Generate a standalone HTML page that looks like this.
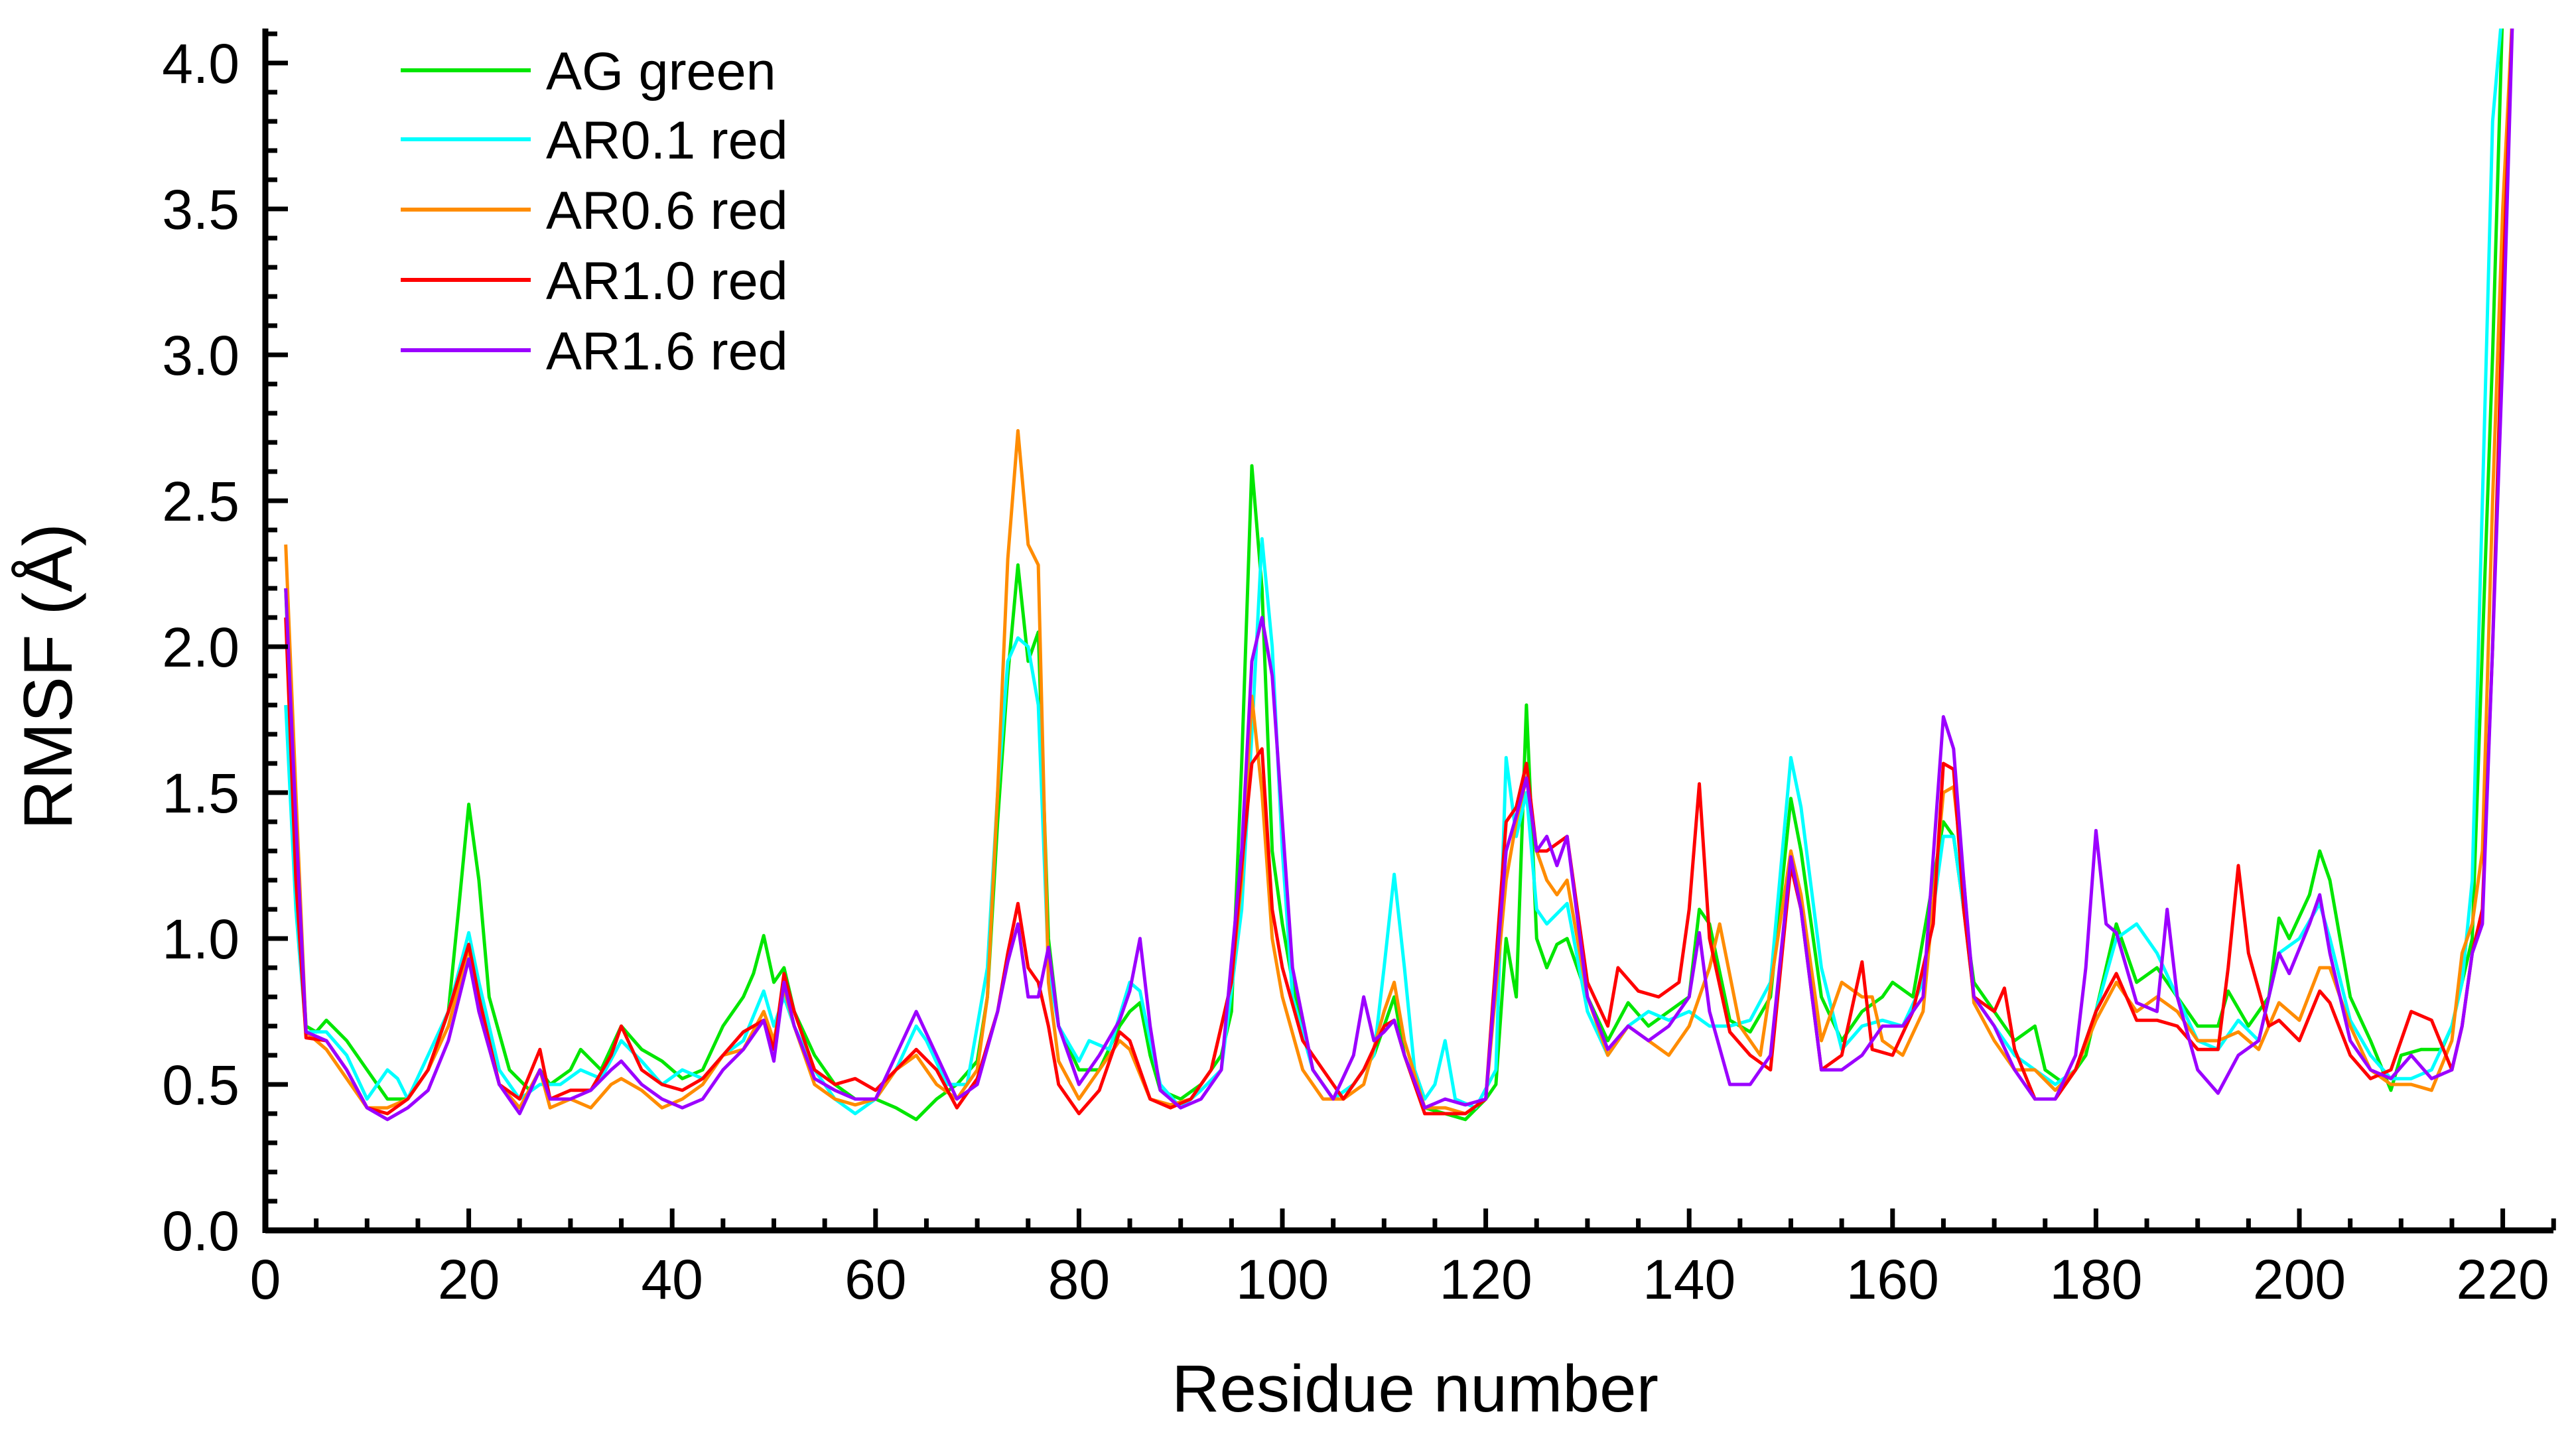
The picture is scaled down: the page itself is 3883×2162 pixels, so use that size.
<!DOCTYPE html>
<html><head><meta charset="utf-8"><style>
html,body{margin:0;padding:0;background:#fff}
svg{display:block}
text{font-family:"Liberation Sans",Arial,sans-serif;fill:#000}
</style></head><body>
<svg id="chart" width="3883" height="2162" viewBox="0 0 3883 2162" xmlns="http://www.w3.org/2000/svg">
<defs><clipPath id="plotclip"><rect x="400" y="43" width="3460" height="1815"/></clipPath></defs>
<g id="series" clip-path="url(#plotclip)"></g>
<g id="axes"></g>
<g id="legend"></g>
<text x="2133" y="2128" font-size="100" text-anchor="middle">Residue number</text>
<text x="0" y="0" font-size="104" text-anchor="middle" transform="translate(108,1020) rotate(-90)">RMSF (Å)</text>
</svg>
<script>
const xTicks=[0,20,40,60,80,100,120,140,160,180,200,220];
const yTicks=[0.0,0.5,1.0,1.5,2.0,2.5,3.0,3.5,4.0];
const seriesNames=["AG green","AR0.1 red","AR0.6 red","AR1.0 red","AR1.6 red"];
const seriesColors=["#00e600","#00ffff","#ff8c00","#ff0000","#9b00ff"];
const agRes=[2,3,4,5,6,8,10,12,14,16,18,19,20,21,22,24,26,27,28,30,31,33,35,37,39,41,43,45,47,48,49,50,51,52,54,56,58,60,62,64,66,68,70,71,72,73,74,75,76,77,78,80,82,84,85,86,87,88,90,92,94,95,96,97,98,99,100,101,103,105,107,109,111,112,114,116,118,120,121,122,123,124,125,126,127,128,130,132,134,136,138,140,141,142,144,146,148,150,151,153,155,157,159,160,162,164,165,166,167,168,170,172,174,175,177,179,181,182,184,186,188,190,192,193,195,197,198,199,201,202,203,205,207,209,210,212,214,215,216,217,218,219,220];
const agVal=[2.2,1.3,0.7,0.68,0.72,0.65,0.55,0.45,0.45,0.55,0.75,1.1,1.46,1.2,0.8,0.55,0.48,0.55,0.5,0.55,0.62,0.55,0.7,0.62,0.58,0.52,0.55,0.7,0.8,0.88,1.01,0.85,0.9,0.75,0.6,0.5,0.45,0.45,0.42,0.38,0.45,0.5,0.58,0.8,1.4,1.9,2.28,1.95,2.05,1.0,0.7,0.55,0.55,0.7,0.75,0.78,0.6,0.48,0.45,0.5,0.6,0.75,1.6,2.62,2.2,1.3,1.05,0.85,0.55,0.45,0.5,0.6,0.8,0.6,0.42,0.4,0.38,0.45,0.5,1.0,0.8,1.8,1.0,0.9,0.98,1.0,0.8,0.65,0.78,0.7,0.75,0.8,1.1,1.05,0.72,0.68,0.8,1.48,1.3,0.8,0.65,0.75,0.8,0.85,0.8,1.2,1.4,1.35,1.1,0.85,0.75,0.65,0.7,0.55,0.5,0.6,0.9,1.05,0.85,0.9,0.8,0.7,0.7,0.82,0.7,0.8,1.07,1.0,1.15,1.3,1.2,0.8,0.65,0.48,0.6,0.62,0.62,0.7,0.85,1.0,2.0,3.0,4.2];
const ar01Res=[2,3,4,6,8,10,12,13,14,16,18,20,21,23,25,27,29,31,33,35,37,39,41,43,45,47,49,50,51,52,54,56,58,60,62,64,65,67,69,71,72,73,74,75,76,77,78,80,81,83,85,86,87,88,90,92,94,96,97,98,99,100,101,103,105,107,109,110,111,112,113,114,115,116,117,119,121,122,123,124,125,126,128,130,132,134,136,138,140,142,144,146,148,150,151,153,155,157,159,161,163,165,166,167,168,170,172,174,176,178,180,182,184,186,188,190,192,194,196,198,200,202,203,205,207,209,211,213,215,216,217,218,219,220];
const ar01Val=[1.8,1.1,0.68,0.68,0.6,0.45,0.55,0.52,0.45,0.6,0.75,1.02,0.85,0.55,0.45,0.5,0.5,0.55,0.52,0.65,0.58,0.5,0.55,0.52,0.6,0.65,0.82,0.7,0.8,0.7,0.55,0.45,0.4,0.45,0.55,0.7,0.65,0.5,0.5,0.9,1.5,1.95,2.03,2.0,1.8,0.9,0.7,0.58,0.65,0.62,0.85,0.82,0.65,0.5,0.42,0.48,0.55,1.1,1.7,2.37,2.0,1.3,0.8,0.55,0.45,0.5,0.6,0.9,1.22,0.9,0.55,0.45,0.5,0.65,0.45,0.42,0.55,1.62,1.35,1.5,1.1,1.05,1.12,0.75,0.6,0.7,0.75,0.72,0.75,0.7,0.7,0.72,0.85,1.62,1.45,0.9,0.62,0.7,0.72,0.7,0.85,1.35,1.35,1.1,0.8,0.7,0.6,0.55,0.5,0.55,0.75,1.0,1.05,0.95,0.8,0.65,0.62,0.72,0.65,0.95,1.0,1.12,1.0,0.72,0.6,0.52,0.52,0.55,0.7,0.85,1.2,2.5,3.8,4.2];
const ar06Res=[2,3,4,6,8,10,12,14,16,18,20,21,23,25,27,28,30,32,34,35,37,39,41,43,45,47,49,50,51,52,54,56,58,60,62,64,66,68,70,71,72,73,74,75,76,77,78,80,82,84,85,87,89,91,93,95,96,97,98,99,100,102,104,106,108,110,111,112,114,116,118,120,122,123,124,125,126,127,128,130,132,134,136,138,140,142,143,145,147,150,151,153,155,157,158,159,161,163,165,166,167,168,170,172,174,176,178,180,182,184,186,188,190,192,194,196,198,200,202,203,205,207,209,211,213,215,216,217,218,219,220,221];
const ar06Val=[2.35,1.5,0.68,0.62,0.52,0.42,0.42,0.45,0.55,0.7,0.97,0.75,0.5,0.42,0.55,0.42,0.45,0.42,0.5,0.52,0.48,0.42,0.45,0.5,0.6,0.62,0.75,0.65,0.83,0.7,0.5,0.45,0.43,0.45,0.55,0.6,0.5,0.45,0.55,0.8,1.5,2.3,2.74,2.35,2.28,0.85,0.58,0.45,0.55,0.65,0.62,0.45,0.43,0.45,0.55,0.85,1.2,1.83,1.5,1.0,0.8,0.55,0.45,0.45,0.5,0.75,0.85,0.65,0.42,0.42,0.4,0.45,1.2,1.4,1.55,1.3,1.2,1.15,1.2,0.8,0.6,0.7,0.65,0.6,0.7,0.9,1.05,0.7,0.6,1.3,1.15,0.65,0.85,0.8,0.8,0.65,0.6,0.75,1.5,1.52,1.2,0.78,0.65,0.55,0.55,0.48,0.55,0.72,0.85,0.75,0.8,0.75,0.65,0.65,0.68,0.62,0.78,0.72,0.9,0.9,0.7,0.55,0.5,0.5,0.48,0.65,0.95,1.05,1.3,2.5,3.5,4.2];
const ar10Res=[2,3,4,6,8,10,12,14,16,18,20,21,23,25,27,28,30,32,34,35,37,39,41,43,45,47,49,50,51,52,54,56,58,60,62,64,66,68,70,72,73,74,75,76,77,78,80,82,84,85,87,89,91,93,95,96,97,98,99,100,102,104,106,108,110,111,112,114,116,118,120,122,123,124,125,126,128,130,132,133,135,137,139,140,141,142,144,146,148,150,151,153,155,157,158,160,162,164,165,166,167,168,170,171,172,174,176,178,180,182,184,186,188,190,192,193,194,195,197,198,200,202,203,205,207,209,211,213,215,216,217,218,219,220,221];
const ar10Val=[2.1,1.2,0.66,0.65,0.55,0.42,0.4,0.45,0.55,0.75,0.98,0.8,0.5,0.45,0.62,0.45,0.48,0.48,0.6,0.7,0.55,0.5,0.48,0.52,0.6,0.68,0.72,0.62,0.88,0.75,0.55,0.5,0.52,0.48,0.55,0.62,0.55,0.42,0.52,0.75,0.95,1.12,0.9,0.85,0.7,0.5,0.4,0.48,0.68,0.65,0.45,0.42,0.45,0.55,0.85,1.25,1.6,1.65,1.1,0.9,0.65,0.55,0.45,0.55,0.7,0.72,0.6,0.4,0.4,0.4,0.45,1.4,1.45,1.6,1.3,1.3,1.35,0.85,0.7,0.9,0.82,0.8,0.85,1.1,1.53,1.0,0.68,0.6,0.55,1.25,1.1,0.55,0.6,0.92,0.62,0.6,0.75,1.05,1.6,1.58,1.1,0.8,0.75,0.83,0.62,0.45,0.45,0.55,0.75,0.88,0.72,0.72,0.7,0.62,0.62,0.9,1.25,0.95,0.7,0.72,0.65,0.82,0.78,0.6,0.52,0.55,0.75,0.72,0.55,0.7,0.95,1.1,2.0,3.2,4.2];
const ar16Res=[2,3,4,6,8,10,12,14,16,18,20,21,23,25,27,28,30,32,34,35,37,39,41,43,45,47,49,50,51,52,54,56,58,60,62,64,66,68,70,72,73,74,75,76,77,78,80,82,84,85,86,87,88,90,92,94,96,97,98,99,100,101,103,105,107,108,109,110,111,112,114,116,118,120,122,123,124,125,126,127,128,130,132,134,136,138,140,141,142,144,146,148,150,151,153,155,157,159,161,163,165,166,167,168,170,172,174,176,178,179,180,181,182,184,186,187,188,190,192,194,196,198,199,201,202,203,205,207,209,211,213,215,216,217,218,219,220,221];
const ar16Val=[2.2,1.4,0.68,0.65,0.55,0.42,0.38,0.42,0.48,0.65,0.93,0.75,0.5,0.4,0.55,0.45,0.45,0.48,0.55,0.58,0.5,0.45,0.42,0.45,0.55,0.62,0.72,0.58,0.85,0.7,0.52,0.48,0.45,0.45,0.6,0.75,0.6,0.45,0.5,0.75,0.92,1.05,0.8,0.8,0.97,0.7,0.5,0.6,0.72,0.82,1.0,0.7,0.48,0.42,0.45,0.55,1.3,1.95,2.1,1.9,1.4,0.9,0.55,0.45,0.6,0.8,0.65,0.68,0.72,0.6,0.42,0.45,0.43,0.45,1.3,1.42,1.55,1.3,1.35,1.25,1.35,0.8,0.62,0.7,0.65,0.7,0.8,1.02,0.75,0.5,0.5,0.6,1.28,1.1,0.55,0.55,0.6,0.7,0.7,0.8,1.76,1.65,1.2,0.8,0.7,0.55,0.45,0.45,0.6,0.9,1.37,1.05,1.02,0.78,0.75,1.1,0.8,0.55,0.47,0.6,0.65,0.95,0.88,1.05,1.15,0.95,0.65,0.55,0.52,0.6,0.52,0.55,0.7,0.95,1.05,2.0,3.0,4.2];

const X0=400,XS=15.33,Y0=1855,YS=440;
function xScale(v){return X0+v*XS;}
function yScale(v){return Y0-v*YS;}
const NS="http://www.w3.org/2000/svg";
function mk(tag,attrs,parent){const e=document.createElementNS(NS,tag);for(const k in attrs)e.setAttribute(k,attrs[k]);parent.appendChild(e);return e;}

const seriesRes=[agRes,ar01Res,ar06Res,ar10Res,ar16Res];
const seriesVal=[agVal,ar01Val,ar06Val,ar10Val,ar16Val];
const sg=document.getElementById('series');
const slugs=["series-ag-green","series-ar01-red","series-ar06-red","series-ar10-red","series-ar16-red"];
for(let s=0;s<5;s++){
  const pts=seriesRes[s].map((r,i)=>xScale(r).toFixed(1)+','+yScale(seriesVal[s][i]).toFixed(1)).join(' ');
  const pl=mk('polyline',{points:pts,fill:'none',stroke:seriesColors[s],'stroke-width':5,'stroke-linejoin':'round'},sg);
  
  
}

const ax=document.getElementById('axes');
const xl=mk('line',{x1:X0,y1:Y0,x2:3849,y2:Y0,stroke:'#000','stroke-width':9},ax);


const yl=mk('line',{x1:X0,y1:Y0+4,x2:X0,y2:43,stroke:'#000','stroke-width':9},ax);


for(let v=5;v<=225;v+=5){
  const major=v%20===0;
  const t=mk('line',{x1:xScale(v),y1:Y0,x2:xScale(v),y2:Y0-(major?33:18),stroke:'#000','stroke-width':7},ax);
  
  
}
for(const v of xTicks){
  const t=mk('text',{x:xScale(v),y:1958,'font-size':84,'text-anchor':'middle'},ax);
  t.textContent=String(v);
  
  
}
for(let i=1;i<=41;i++){
  const v=i/10;const major=i%5===0;
  const t=mk('line',{x1:X0,y1:yScale(v),x2:X0+(major?34:18),y2:yScale(v),stroke:'#000','stroke-width':7},ax);
  
  
}
for(const v of yTicks){
  const t=mk('text',{x:361,y:yScale(v)+30,'font-size':84,'text-anchor':'end'},ax);
  t.textContent=v.toFixed(1);
  
  
}

const lg=document.getElementById('legend');
const legY=[106,210,316,422,528];
for(let s=0;s<5;s++){
  const g=mk('g',{},lg);
  
  
  mk('line',{x1:604,y1:legY[s],x2:800,y2:legY[s],stroke:seriesColors[s],'stroke-width':6},g);
  const t=mk('text',{x:823,y:legY[s]+29,'font-size':81},g);
  t.textContent=seriesNames[s];
}
</script>
</body></html>
